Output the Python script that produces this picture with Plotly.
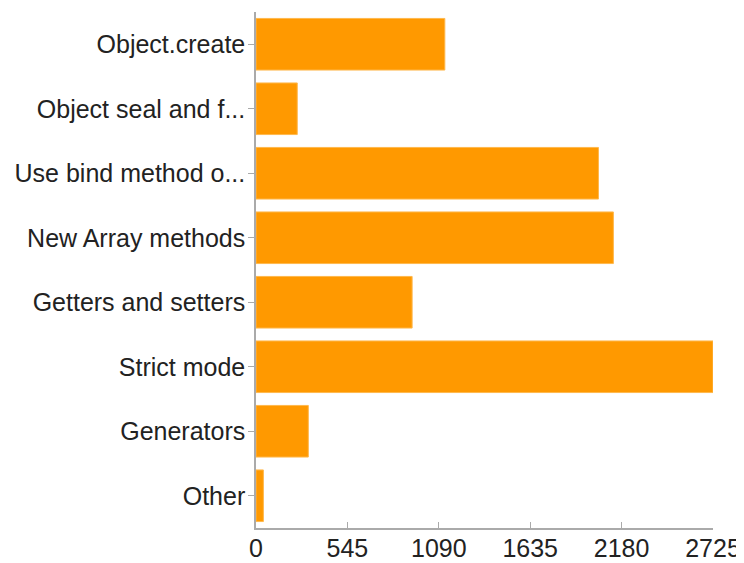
import plotly.graph_objects as go

categories = ["Object.create", "Object seal and f...", "Use bind method o...", "New Array methods",
              "Getters and setters", "Strict mode", "Generators", "Other"]
values = [1126, 246, 2042, 2131, 931, 2725, 312, 44]
tick_vals = [0, 545, 1090, 1635, 2180, 2725]

fig = go.Figure(go.Bar(
    x=values, y=categories, orientation="h",
    marker=dict(color="#FF9900", line=dict(color="#FFB84D", width=1)),
    cliponaxis=False,
))

# page body has an 8px margin, so the figure is sized to the visible area
fig.update_layout(
    width=736, height=555,
    margin=dict(l=248, r=31, t=4, b=35, autoexpand=False),
    paper_bgcolor="white", plot_bgcolor="white",
    font=dict(family="Liberation Sans, Arial, sans-serif", size=25, color="#222222"),
    bargap=0.2,
    showlegend=False,
)
fig.update_xaxes(
    range=[0, 2725], tickvals=tick_vals, ticktext=[str(v) for v in tick_vals],
    showgrid=False, zeroline=False, showline=True, linecolor="#AAAAAA", linewidth=1.5,
    ticks="inside", ticklen=6, tickcolor="#AAAAAA", tickfont=dict(size=25, color="#222222"),
    automargin=False, ticklabelstandoff=-3,
)
fig.update_yaxes(
    autorange="reversed", showgrid=False, zeroline=False, showline=True,
    linecolor="#AAAAAA", linewidth=1.5, ticks="outside", ticklen=6, tickcolor="#AAAAAA",
    tickfont=dict(size=25, color="#222222"), automargin=False, ticklabelstandoff=-2,
)

fig.write_html("out.html")
